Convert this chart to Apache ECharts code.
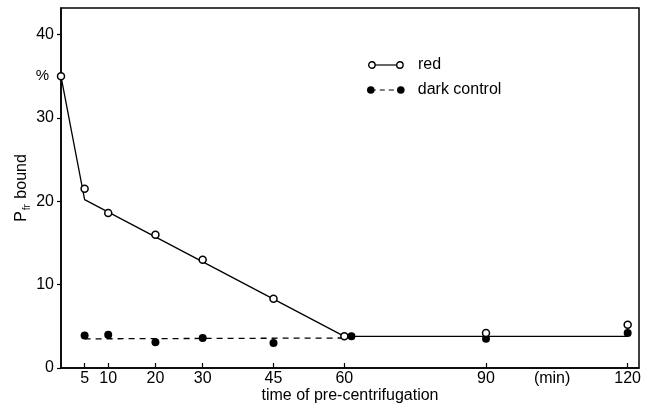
<!DOCTYPE html>
<html>
<head>
<meta charset="utf-8">
<script src="https://cdn.jsdelivr.net/npm/echarts@6/dist/echarts.min.js"></script>
<style>
  html, body { margin: 0; padding: 0; background: #fff; }
  #chart { width: 654px; height: 408px; }
</style>
</head>
<body>
<div id="chart"></div>
<script>
// measured points
const redTime = [0, 5, 10, 20, 30, 45, 60, 90, 120];
const redBound = [35, 21.5, 18.6, 16.0, 13.0, 8.3, 3.8, 4.2, 5.2];
const darkTime = [5, 10, 20, 30, 45, 61.5, 90, 120];
const darkBound = [3.9, 4.0, 3.1, 3.6, 3.0, 3.8, 3.5, 4.2];
// drawn curves
const redFitTime = [0, 5, 60, 120];
const redFitBound = [35, 20.2, 3.8, 3.8];
const darkFitTime = [5, 60];
const darkFitBound = [3.5, 3.6];
// ticks
const xTicks = [5, 10, 20, 30, 45, 60, 90, 120];
const unitAt = 104;
const yTicks = [0, 10, 20, 30, 40];
const pctAt = 35;

const pairs = (xs, ys) => xs.map((x, i) => [x, ys[i]]);
const font = 'Liberation Sans, Arial, sans-serif';

const chart = echarts.init(document.getElementById('chart'));
chart.setOption({
    animation: false,
    textStyle: { fontFamily: font },
    grid: {
        left: 61, right: 15, top: 8, bottom: 40,
        outerBoundsMode: 'none',
        show: true, borderColor: '#000', borderWidth: 1.5
    },
    xAxis: {
        type: 'value', min: 0, max: 122.4,
        name: 'time of pre-centrifugation',
        nameLocation: 'middle', nameGap: 20,
        nameMoveOverlap: false,
        nameTextStyle: { fontSize: 16, color: '#000' },
        axisLine: { lineStyle: { color: '#000', width: 1.5 } },
        axisTick: { inside: true, length: 5, customValues: xTicks, lineStyle: { color: '#000', width: 1.2 } },
        axisLabel: {
            customValues: xTicks.concat([unitAt]),
            formatter: v => v === unitAt ? '(min)' : String(v),
            fontSize: 16, color: '#000', margin: 3
        },
        splitLine: { show: false }
    },
    yAxis: {
        type: 'value', min: 0, max: 43.2,
        name: '{p|P}{s|fr}{p| bound}',
        nameLocation: 'middle', nameGap: 29, nameRotate: 90,
        nameMoveOverlap: false,
        nameTextStyle: {
            color: '#000',
            rich: {
                p: { fontSize: 16, color: '#000' },
                s: { fontSize: 10, color: '#000', padding: [10, 1, 0, 1] }
            }
        },
        axisLine: { lineStyle: { color: '#000', width: 1.5 } },
        axisTick: { length: 4, customValues: yTicks, lineStyle: { color: '#000', width: 1.2 } },
        axisLabel: {
            customValues: yTicks.concat([pctAt]),
            formatter: v => v === pctAt ? '{pct|%}' : String(v),
            fontSize: 16, color: '#000', margin: 7,
            rich: { pct: { fontSize: 15, color: '#000', padding: [0, 5, 0, 0] } }
        },
        splitLine: { show: false }
    },
    graphic: [
        {
            type: 'group', left: 368, top: 57,
            children: [
                { type: 'line', shape: { x1: 4, y1: 4, x2: 32, y2: 4 }, style: { stroke: '#000', lineWidth: 1.2 } },
                { type: 'circle', shape: { cx: 4, cy: 4, r: 3.2 }, style: { fill: '#fff', stroke: '#000', lineWidth: 1.4 } },
                { type: 'circle', shape: { cx: 32, cy: 4, r: 3.2 }, style: { fill: '#fff', stroke: '#000', lineWidth: 1.4 } },
                { type: 'text', x: 50, y: 4, style: { text: 'red', font: '16px ' + font, fill: '#000', verticalAlign: 'middle' } }
            ]
        },
        {
            type: 'group', left: 367, top: 82,
            children: [
                { type: 'line', shape: { x1: 4, y1: 4, x2: 34, y2: 4 }, style: { stroke: '#000', lineWidth: 1.2, lineDash: [5, 4] } },
                { type: 'circle', shape: { cx: 4, cy: 4, r: 3.8 }, style: { fill: '#000' } },
                { type: 'circle', shape: { cx: 34, cy: 4, r: 3.8 }, style: { fill: '#000' } },
                { type: 'text', x: 51, y: 4, style: { text: 'dark control', font: '16px ' + font, fill: '#000', verticalAlign: 'middle' } }
            ]
        }
    ],
    series: [
        {
            name: 'red fit', type: 'line', data: pairs(redFitTime, redFitBound),
            showSymbol: false, clip: false,
            lineStyle: { color: '#000', width: 1.3 }
        },
        {
            name: 'dark fit', type: 'line', data: pairs(darkFitTime, darkFitBound),
            showSymbol: false, clip: false,
            lineStyle: { color: '#000', width: 1.3, type: [6, 5] }
        },
        {
            name: 'red', type: 'scatter', data: pairs(redTime, redBound),
            symbol: 'circle', symbolSize: 7, clip: false,
            itemStyle: { color: '#fff', borderColor: '#000', borderWidth: 1.5, opacity: 1 },
            z: 5
        },
        {
            name: 'dark control', type: 'scatter', data: pairs(darkTime, darkBound),
            symbol: 'circle', symbolSize: 8, clip: false,
            itemStyle: { color: '#000', opacity: 1 },
            z: 4
        }
    ]
});
</script>
</body>
</html>
